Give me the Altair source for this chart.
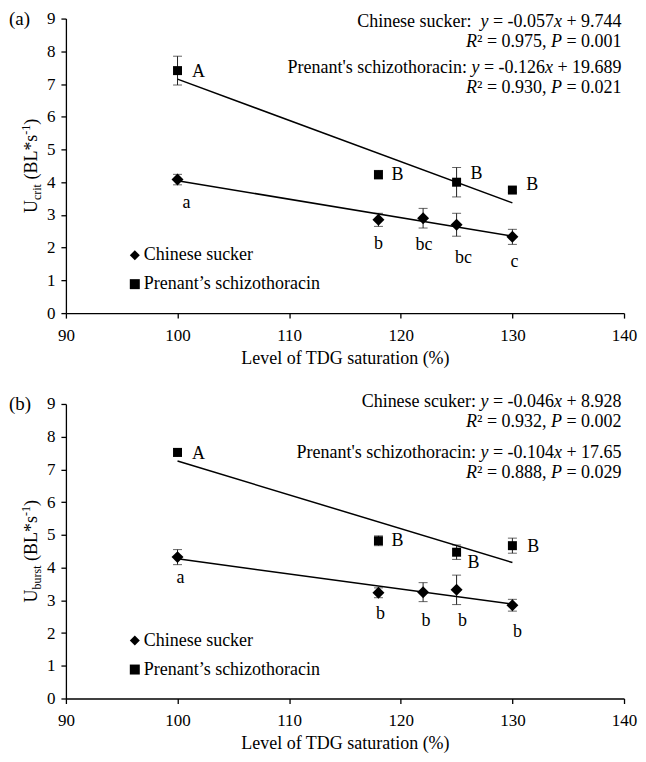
import altair as alt
import pandas as pd

FONT = "Liberation Serif"

# ---------------- data ----------------
tdg_sucker = [100, 118, 122, 125, 130]
tdg_schizo = [100, 118, 125, 130]
species_names = ["Chinese sucker", "Prenant’s schizothoracin"]

ucrit_sucker = [4.08, 2.85, 2.90, 2.70, 2.33]
ucrit_sucker_err = [0.16, 0.20, 0.30, 0.35, 0.23]
ucrit_sucker_letters = ["a", "b", "bc", "bc", "c"]
ucrit_schizo = [7.41, 4.23, 4.00, 3.76]
ucrit_schizo_err = [0.44, 0.13, 0.45, 0.07]
ucrit_schizo_letters = ["A", "B", "B", "B"]

uburst_sucker = [4.32, 3.23, 3.25, 3.32, 2.85]
uburst_sucker_err = [0.23, 0.15, 0.29, 0.45, 0.18]
uburst_sucker_letters = ["a", "b", "b", "b", "b"]
uburst_schizo = [7.52, 4.82, 4.47, 4.67]
uburst_schizo_err = [0.12, 0.15, 0.22, 0.23]
uburst_schizo_letters = ["A", "B", "B", "B"]

x_ticks = [90, 100, 110, 120, 130, 140]
y_ticks = [0, 1, 2, 3, 4, 5, 6, 7, 8, 9]

eq_names_a = ["Chinese sucker", "Prenant's schizothoracin"]
eq_slopes_a = ["-0.057", "-0.126"]
eq_ints_a = ["9.744", "19.689"]
eq_r2_a = ["0.975", "0.930"]
eq_p_a = ["0.001", "0.021"]

eq_names_b = ["Chinese scuker", "Prenant's schizothoracin"]
eq_slopes_b = ["-0.046", "-0.104"]
eq_ints_b = ["8.928", "17.65"]
eq_r2_b = ["0.932", "0.888"]
eq_p_b = ["0.002", "0.029"]

# ---------------- layout constants ----------------
W, H = 559, 295
EQ_SIZE = 18
EQ_RIGHT = 556.5
EQ_Y_A = [3.4, 23.4, 49.5, 69.5]
EQ_Y_B = [-1.7, 17.8, 49.6, 68.8]
OFF_SUCKER_A = [(9, 23), (0, 24), (1, 27), (7, 33), (2, 25)]
OFF_SCHIZO_A = [(21, 1), (19, 0), (20, -8), (20, -5)]
OFF_SUCKER_B = [(3, 21), (2, 21), (3, 29), (6, 31), (5, 27)]
OFF_SCHIZO_B = [(21, 2), (19, 0), (17, 11), (21, 1)]

W_REG = {" ": 250, "'": 180, "’": 333, "(": 333, ")": 333, "*": 500, "+": 564,
         ",": 250, "-": 333, ".": 250, ":": 278, "=": 564, "²": 300,
         "B": 667, "C": 667, "L": 611, "P": 556, "R": 667, "U": 722,
         "a": 444, "b": 500, "c": 444, "e": 444, "h": 500, "i": 278, "k": 500,
         "n": 500, "o": 500, "r": 333, "s": 389, "t": 278, "u": 500, "z": 444}
W_IT = {"x": 444, "y": 444, "R": 611, "P": 611}


def tw(s, italic, size):
    table = W_IT if italic else W_REG
    return sum(table.get(ch, 500) for ch in s) / 1000.0 * size


dummy = pd.DataFrame({"k": [0]})


def fixed_text(txt, x, y, size, italic=False, align="left", angle=0, baseline="middle"):
    kw = dict(text=txt, align=align, baseline=baseline, font=FONT, fontSize=size,
              fontStyle="italic" if italic else "normal", color="black")
    if angle:
        kw["angle"] = angle
    return alt.Chart(dummy).mark_text(**kw).encode(x=alt.value(x), y=alt.value(y))


def eq_layers(names, slopes, ints, r2s, ps, ys, first_gap):
    lines = []
    for i in range(2):
        gap = first_gap if i == 0 else 1
        lines.append([(0, names[i] + ":", False), (gap, "y", True), (1, "= " + slopes[i], False),
                      (0, "x", True), (1, "+ " + ints[i], False)])
        lines.append([(0, "R", True), (0, "² = " + r2s[i] + ",", False), (1, "P", True),
                      (1, "= " + ps[i], False)])
    layers = []
    for segs, yy in zip(lines, ys):
        total = sum(n * 250 / 1000.0 * EQ_SIZE + tw(t, it, EQ_SIZE) for n, t, it in segs)
        cur = EQ_RIGHT - total
        for n, t, it in segs:
            cur += n * 250 / 1000.0 * EQ_SIZE
            layers.append(fixed_text(t, cur, yy, EQ_SIZE, italic=it))
            cur += tw(t, it, EQ_SIZE)
    return layers


def ytitle_layers(sub):
    pieces = [("U", 18, 0), (sub, 12, 4), ("(BL*s", 18, 0), ("-1", 12, -7), (")", 18, 0)]
    lead = [0, 0, 1, 0, 0]
    total = sum(tw(t, False, s) + l * 250 / 1000.0 * s for (t, s, _), l in zip(pieces, lead))
    cur = H / 2 + total / 2
    base_x = -28.8
    layers = []
    for (t, s, sh), l in zip(pieces, lead):
        cur -= l * 250 / 1000.0 * s
        layers.append(fixed_text(t, base_x + sh, cur, s, angle=270, baseline="alphabetic"))
        cur -= tw(t, False, s)
    return layers


def make_panel(tag, sub, s_vals, s_err, s_let, p_vals, p_err, p_let,
               eq, eq_y, first_gap, s_off, p_off):
    rows = []
    for i, (x, v, e, l) in enumerate(zip(tdg_sucker, s_vals, s_err, s_let)):
        rows.append(dict(tdg=x, value=v, err=e, letter=l, species=species_names[0], key="s%d" % i))
    for i, (x, v, e, l) in enumerate(zip(tdg_schizo, p_vals, p_err, p_let)):
        rows.append(dict(tdg=x, value=v, err=e, letter=l, species=species_names[1], key="p%d" % i))
    df = pd.DataFrame(rows)
    base = alt.Chart(df)

    xs = alt.Scale(domain=[90, 140], nice=False)
    ys = alt.Scale(domain=[0, 9], nice=False)
    xax = alt.Axis(values=x_ticks, title="Level of TDG saturation (%)", labelFlush=False,
                   labelPadding=9, titlePadding=6)
    yax = alt.Axis(values=y_ticks, title=None, labelPadding=6)
    xenc = alt.X("tdg:Q", scale=xs, axis=xax)

    bars = base.transform_calculate(
        lo="datum.value - datum.err", hi="datum.value + datum.err"
    ).mark_rule(color="#222222", strokeWidth=1).encode(
        x=xenc, y=alt.Y("lo:Q", scale=ys, axis=yax), y2="hi:Q")

    caps = base.transform_calculate(
        lo="datum.value - datum.err", hi="datum.value + datum.err"
    ).transform_fold(["lo", "hi"], as_=["end", "yv"]).mark_tick(
        orient="horizontal", size=9, thickness=1, color="#222222").encode(
        x=xenc, y=alt.Y("yv:Q", scale=ys, axis=yax))

    fit = base.transform_regression("tdg", "value", groupby=["species"]).mark_line(
        color="black", strokeWidth=1.5).encode(
        x=xenc, y=alt.Y("value:Q", scale=ys, axis=yax), detail="species:N")

    legend = alt.Legend(orient="none", legendX=60, legendY=228, title=None, symbolSize=100,
                        symbolFillColor="black", symbolStrokeColor="black", symbolStrokeWidth=0,
                        labelFont=FONT, labelFontSize=18, labelColor="black", rowPadding=11,
                        labelOffset=0, padding=0, labelLimit=400)
    shape = alt.Shape("species:N", scale=alt.Scale(domain=species_names, range=["diamond", "square"]),
                      legend=legend)
    pts = []
    for name, size in zip(species_names, [144, 81]):
        pts.append(base.transform_filter(alt.datum.species == name).mark_point(
            filled=True, size=size, opacity=1, color="black", strokeWidth=0).encode(
            x=xenc, y=alt.Y("value:Q", scale=ys, axis=yax), shape=shape))

    letters = []
    for pre, offs in (("s", s_off), ("p", p_off)):
        for i, (dx, dy) in enumerate(offs):
            letters.append(base.transform_filter(alt.datum.key == "%s%d" % (pre, i)).mark_text(
                dx=dx, dy=dy, font=FONT, fontSize=18, align="center", baseline="middle",
                color="black").encode(x=xenc, y=alt.Y("value:Q", scale=ys, axis=yax),
                                      text="letter:N"))

    ann = [fixed_text(tag, -57, 0, 19)]
    ann += eq_layers(*eq, eq_y, first_gap)
    ann += ytitle_layers(sub)

    return alt.layer(bars, caps, fit, *pts, *letters, *ann).properties(width=W, height=H)


panel_a = make_panel("(a)", "crit", ucrit_sucker, ucrit_sucker_err, ucrit_sucker_letters,
                     ucrit_schizo, ucrit_schizo_err, ucrit_schizo_letters,
                     (eq_names_a, eq_slopes_a, eq_ints_a, eq_r2_a, eq_p_a), EQ_Y_A, 2,
                     OFF_SUCKER_A, OFF_SCHIZO_A)
panel_b = make_panel("(b)", "burst", uburst_sucker, uburst_sucker_err, uburst_sucker_letters,
                     uburst_schizo, uburst_schizo_err, uburst_schizo_letters,
                     (eq_names_b, eq_slopes_b, eq_ints_b, eq_r2_b, eq_p_b), EQ_Y_B, 1,
                     OFF_SUCKER_B, OFF_SCHIZO_B)

chart = alt.vconcat(panel_a, panel_b, spacing=24, padding=0).resolve_scale(
    shape="independent"
).configure(font=FONT).configure_view(stroke="transparent").configure_axis(
    domainColor="black", tickColor="black", labelColor="black", labelFont=FONT,
    labelFontSize=17, grid=False, domainWidth=1.3, tickWidth=1.3, tickSize=5,
    titleFont=FONT, titleFontSize=18, titleColor="black", titleFontWeight="normal"
)

chart.save("out.html", embed_options={"renderer": "svg", "actions": False})
